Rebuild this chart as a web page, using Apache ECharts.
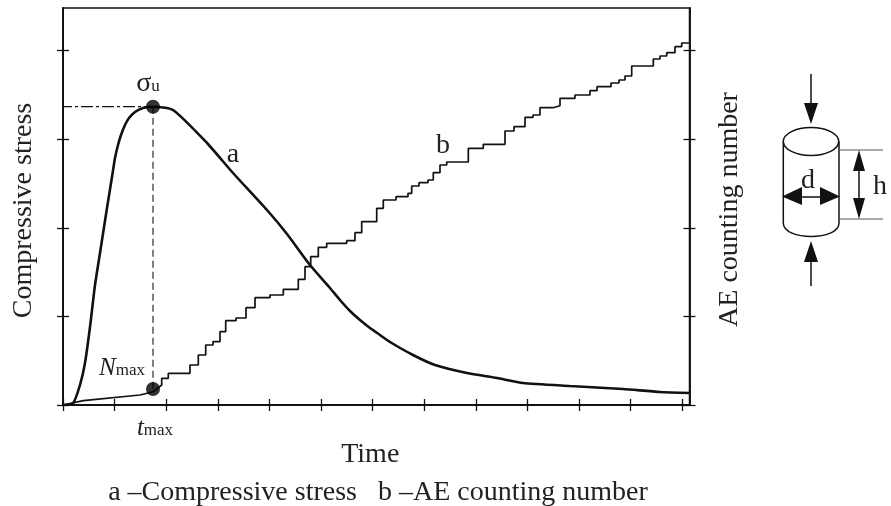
<!DOCTYPE html>
<html><head><meta charset="utf-8">
<style>html,body{margin:0;padding:0;background:#fff}#c{width:891px;height:506px}</style>
<script src="https://cdn.jsdelivr.net/npm/echarts@6/dist/echarts.min.js"></script>
</head><body><div id="c"></div>
<script>
// Axis units are arbitrary (the reference shows no tick numbers)
const xTicks=[0,51.6,103.2,154.8,206.4,258,309.6,361.2,412.8,464.4,516,567.6,619.2];
const yTicks=[0,88.6,177.2,265.8,354.4];
const stressCurve=[[0,0],[10,1.7],[17,20],[22,42],[27,78],[32,120],[37,152],[44,197],[49,228],[52,247],[55,260],[58,270],[62,280],[66,287],[72,293],[80,297],[90,298.3],[110,295],[144,262],[170,232],[204,195],[224,171],[247,140],[267,117],[277,105],[287,94],[297,85],[307,77],[317,70],[327,63],[350,50],[372,40],[404,32],[434,27],[460,22],[507,19],[560,16],[597,13],[627,12]];
const aeCurve=[[0,0],[20.3,4.3],[77,10],[90.3,13.3],[98.7,20],[98.7,26.7],[105.3,26.7],[105.3,31.7],[127,31.7],[127,40],[135.3,40],[135.3,50],[142.7,50],[142.7,60],[150,60],[150,63.3],[157,63.3],[157,73.3],[162.7,73.3],[162.7,84.3],[173,84.3],[173,87],[183,87],[183,97.3],[192,97.3],[192,107.3],[207,107.3],[207,110],[220.3,110],[220.3,115.7],[235.3,115.7],[235.3,125.7],[242,125.7],[242,138.3],[247.7,138.3],[247.7,148.3],[255.3,148.3],[255.3,157.7],[263.7,157.7],[263.7,161.7],[283.7,161.7],[283.7,164.3],[292,164.3],[292,172.3],[298.7,172.3],[298.7,183.3],[313.7,183.3],[313.7,196.7],[320.3,196.7],[320.3,205],[333,205],[333,208.3],[345,208.3],[345,211.7],[348.7,211.7],[348.7,219],[356,219],[356,222.3],[365,222.3],[365,225],[370.3,225],[370.3,232.3],[377,232.3],[377,240],[383.7,240],[383.7,243],[405.3,243],[405.3,256.7],[420.3,256.7],[420.3,260.7],[442,260.7],[442,274],[451,274],[451,278.3],[462,278.3],[462,287.7],[470,287.7],[470,290],[477,290],[477,297.3],[490,297.3],[490,299.3],[497,299.3],[497,306.7],[512,306.7],[512,310],[527,310],[527,314.3],[534,314.3],[534,318.3],[548,318.3],[548,322],[556,322],[556,325],[562,325],[562,329],[568.7,329],[568.7,339],[590.3,339],[590.3,346],[597,346],[597,349],[603.7,349],[603.7,352.3],[612,352.3],[612,358.3],[618.7,358.3],[618.7,362],[626.5,362]];
const peakGuideH=[[-3,298.3],[90,298.3]];
const peakGuideV=[[90,298.3],[90,16]];
const keyPoints=[[90,298.3],[90,16]];
const xMax=626.5,yMax=397;
const INK='#111';
const serif='"Liberation Serif","Times New Roman",serif';
function yAx(position,inside,name){return {type:'value',position,min:0,max:yMax,name:name||'',nameLocation:'middle',nameGap:name?(position==='left'?25:26):0,
 nameTextStyle:{fontFamily:serif,fontSize:28,color:'#222',padding:[0,position==='left'?8:6,0,0]},
 axisLine:{show:true,onZero:false,lineStyle:{color:INK,width:1.5}},splitLine:{show:false},axisLabel:{show:false},
 axisTick:{show:true,inside,length:6,customValues:yTicks,lineStyle:{color:INK,width:1.3}}};}
function xAx(inside,name){return {type:'value',position:'bottom',min:0,max:xMax,name:name||'',nameLocation:'middle',nameGap:36,
 nameTextStyle:{fontFamily:serif,fontSize:28,color:'#222',padding:[0,12,0,0]},
 axisLine:{show:true,onZero:false,lineStyle:{color:INK,width:1.5}},splitLine:{show:false},axisLabel:{show:false},
 axisTick:{show:true,inside,length:6,customValues:xTicks,lineStyle:{color:INK,width:1.3}}};}
function T(x,y,text,size,extra){return {type:'text',x,y,style:Object.assign({text,fontFamily:serif,fontSize:size,fill:'#222',align:'center',verticalAlign:'middle'},extra||{})};}
function L(x1,y1,x2,y2,w,c){return {type:'line',shape:{x1,y1,x2,y2},style:{stroke:c||INK,lineWidth:w||1.5}};}
function P(points){return {type:'polygon',shape:{points},style:{fill:INK}};}
const diagram=[
 {type:'ellipse',shape:{cx:811,cy:141.5,rx:27.7,ry:14},style:{stroke:INK,lineWidth:1.5,fill:'none'}},
 L(783.3,141.5,783.3,223),L(839,141.5,839,223),
 {type:'bezierCurve',shape:{x1:783.3,y1:223,x2:839,y2:223,cpx1:783.3,cpy1:241,cpx2:839,cpy2:241},style:{stroke:INK,lineWidth:1.5,fill:'none'}},
 L(811,74,811,106),P([[804,103],[818,103],[811,124]]),
 L(811,260,811,286),P([[804,262],[818,262],[811,241]]),
 L(800,197,822,197),P([[802,187],[802,205],[782,196.5]]),P([[820,187],[820,205],[840,196.5]]),
 L(839,150,883,150,1.2,'#555'),L(839,219,883,219,1.2,'#555'),
 L(859,165,859,205),P([[853,171],[865,171],[859,150]]),P([[853,198],[865,198],[859,219]]),
 T(808,181,'d',28),T(880,187,'h',28),
 T(233,155,'a',28),T(443,146,'b',28),
 {type:'text',x:148,y:84,style:{rich:{s:{fontFamily:serif,fontSize:28,fill:'#222'},u:{fontFamily:serif,fontSize:17,fill:'#222',padding:[6,0,0,0]}},text:'{s|σ}{u|u}',align:'center',verticalAlign:'middle'}},
 {type:'text',x:122,y:368,style:{rich:{s:{fontFamily:serif,fontSize:25,fontStyle:'italic',fill:'#222'},u:{fontFamily:serif,fontSize:17,fill:'#222',padding:[6,0,0,0]}},text:'{s|N}{u|max}',align:'center',verticalAlign:'middle'}},
 {type:'text',x:155,y:428,style:{rich:{s:{fontFamily:serif,fontSize:25,fontStyle:'italic',fill:'#222'},u:{fontFamily:serif,fontSize:17,fill:'#222',padding:[6,0,0,0]}},text:'{s|t}{u|max}',align:'center',verticalAlign:'middle'}}
];
const chart=echarts.init(document.getElementById('c'),null,{renderer:'canvas'});
chart.setOption({
 animation:false,backgroundColor:'#fff',
 title:{text:'a –Compressive stress   b –AE counting number',left:373,top:476,textAlign:'center',textStyle:{fontFamily:serif,fontSize:28,fontWeight:'normal',color:'#222',lineHeight:24}},
 grid:{left:63,top:8,width:626.5,height:397,show:true,borderColor:INK,borderWidth:1.5,backgroundColor:'transparent',outerBoundsMode:'none'},
 xAxis:[xAx(false,'Time'),xAx(true)],
 yAxis:[yAx('left',false,'Compressive stress'),yAx('left',true),yAx('right',false,'AE counting number'),yAx('right',true)],
 series:[
  {name:'AE counting number',type:'line',data:aeCurve,symbol:'none',lineStyle:{color:INK,width:1.7},z:3},
  {name:'Compressive stress',type:'line',data:stressCurve,symbol:'none',smooth:0.2,lineStyle:{color:INK,width:2.6},z:4},
  {type:'line',data:peakGuideH,symbol:'none',clip:false,lineStyle:{color:INK,width:1.3,type:[12,3,3,3]},z:2},
  {type:'line',data:peakGuideV,symbol:'none',lineStyle:{color:'#555',width:1.5,type:[7,4]},z:2},
  {type:'scatter',data:keyPoints,symbol:'circle',symbolSize:14,itemStyle:{color:'#000'},z:10}
 ],
 graphic:{elements:diagram}
});
</script></body></html>
